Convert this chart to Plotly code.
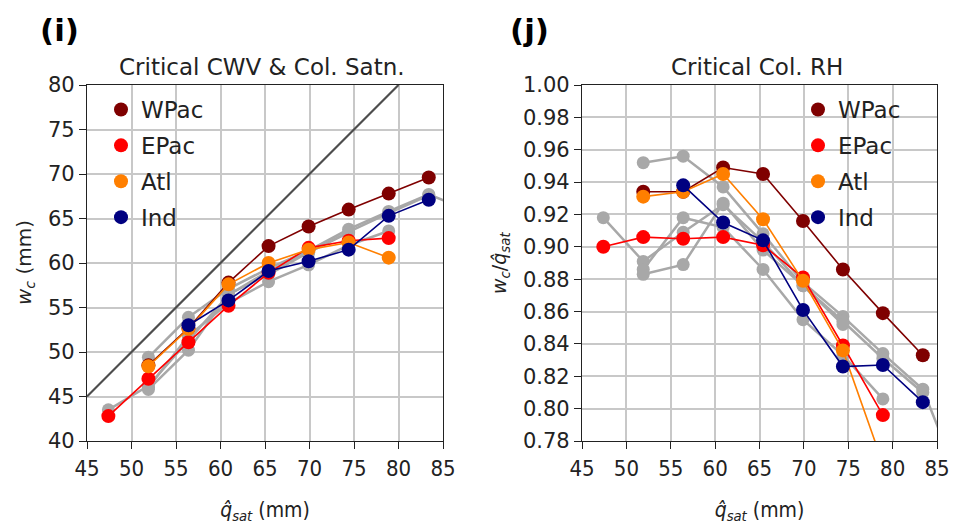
import plotly.graph_objects as go

# ---------------- data ----------------
q_sat = [47.4, 51.9, 56.4, 60.9, 65.4, 69.9, 74.4, 78.9, 83.4, 87.9]

# left panel: critical CWV (mm)
wc_wpac = [None, 48.5, 52.7, 57.8, 61.9, 64.1, 66.0, 67.8, 69.6, None]
wc_epac = [42.8, 47.0, 51.1, 55.2, 58.9, 61.7, 62.5, 62.8, None, None]
wc_atl = [None, 48.4, 52.6, 57.6, 60.0, 61.5, 62.3, 60.6, None, None]
wc_ind = [None, None, 53.0, 55.8, 59.1, 60.2, 61.5, 65.3, 67.1, None]
wc_gray = [
    [None, 49.4, 53.9, 57.1, 59.4, 61.4, 63.8, 65.8, 67.7, 65.9],
    [43.5, 46.2, 51.3, 56.4, 59.1, 61.2, 63.5, 65.6, 67.6, None],
    [None, 46.0, 51.8, 55.5, 57.9, 59.8, 62.0, 63.6, None, None],
    [None, 45.8, 50.2, 56.5, 58.7, 61.2, 63.4, None, None, None],
]
diag = [45, 80]

# right panel: critical column RH (w_c / q_sat)
rh_wpac = [None, 0.934, 0.934, 0.949, 0.945, 0.916, 0.886, 0.859, 0.833, None]
rh_epac = [0.900, 0.906, 0.905, 0.906, 0.901, 0.881, 0.839, 0.796, None, None]
rh_atl = [None, 0.931, 0.934, 0.945, 0.917, 0.879, 0.836, 0.766, None, None]
rh_ind = [None, None, 0.938, 0.915, 0.904, 0.861, 0.826, 0.827, 0.804, None]
rh_gray = [
    [None, 0.952, 0.956, 0.937, 0.908, 0.878, 0.857, 0.834, 0.812, 0.750],
    [0.918, 0.891, 0.909, 0.926, 0.903, 0.876, 0.854, 0.831, 0.810, None],
    [None, 0.886, 0.918, 0.912, 0.886, 0.855, 0.833, 0.806, None, None],
    [None, 0.883, 0.889, 0.927, 0.898, 0.876, 0.852, None, None, None],
]

names = ["WPac", "EPac", "Atl", "Ind"]
colors = ["#7f0000", "#ff0000", "#ff7f00", "#000080"]
gray = "#a8a8a8"

left_tick_vals = [40, 45, 50, 55, 60, 65, 70, 75, 80]
right_tick_vals = [0.78, 0.80, 0.82, 0.84, 0.86, 0.88, 0.90, 0.92, 0.94, 0.96, 0.98, 1.00]
x_tick_vals = [45, 50, 55, 60, 65, 70, 75, 80, 85]

# ---------------- figure ----------------
fig = go.Figure()

MS = 14
for ys in wc_gray:
    fig.add_trace(go.Scatter(x=q_sat, y=ys, mode="lines+markers", xaxis="x", yaxis="y",
                             line=dict(color=gray, width=2.5), marker=dict(color=gray, size=13),
                             showlegend=False))
for ys in rh_gray:
    fig.add_trace(go.Scatter(x=q_sat, y=ys, mode="lines+markers", xaxis="x2", yaxis="y2",
                             line=dict(color=gray, width=2.5), marker=dict(color=gray, size=13),
                             showlegend=False))

fig.add_trace(go.Scatter(x=diag, y=diag, mode="lines", xaxis="x", yaxis="y",
                         line=dict(color="#4d4d4d", width=2.2), showlegend=False))

for nm, c, ys in zip(names, colors, [wc_wpac, wc_epac, wc_atl, wc_ind]):
    fig.add_trace(go.Scatter(x=q_sat, y=ys, mode="lines+markers", xaxis="x", yaxis="y",
                             line=dict(color=c, width=1.6), marker=dict(color=c, size=MS),
                             showlegend=False))
for nm, c, ys in zip(names, colors, [rh_wpac, rh_epac, rh_atl, rh_ind]):
    fig.add_trace(go.Scatter(x=q_sat, y=ys, mode="lines+markers", xaxis="x2", yaxis="y2",
                             line=dict(color=c, width=1.6), marker=dict(color=c, size=MS),
                             showlegend=False))

# legend entries (marker only)
for nm, c in zip(names, colors):
    fig.add_trace(go.Scatter(x=[None], y=[None], mode="markers", xaxis="x", yaxis="y",
                             marker=dict(color=c, size=MS), name=nm, legend="legend",
                             legendgroup="L" + nm))
    fig.add_trace(go.Scatter(x=[None], y=[None], mode="markers", xaxis="x2", yaxis="y2",
                             marker=dict(color=c, size=MS), name=nm, legend="legend2",
                             legendgroup="R" + nm))

narrow = "Liberation Sans Narrow, DejaVu Sans Condensed, Arial Narrow, DejaVu Sans"
tickfont = dict(family="DejaVu Sans", size=21, color="#222")
xtickfont = dict(family=narrow, size=22, color="#222")
common_x = dict(range=[45, 85], tickvals=x_tick_vals, showgrid=True, gridcolor="#c8c8c8", gridwidth=1.5,
                showline=True, linecolor="#222", linewidth=1.2, mirror=True, ticks="outside",
                ticklen=7, tickcolor="#222", tickfont=xtickfont, zeroline=False, automargin=False,
                title=dict(text="<i>q̂<sub>sat</sub></i> (mm)",
                           font=dict(family=narrow, size=21, color="#222"), standoff=22))
common_y = dict(showgrid=True, gridcolor="#c8c8c8", gridwidth=1.5, showline=True, linecolor="#222",
                linewidth=1.2, mirror=True, ticks="outside", ticklen=7, tickcolor="#222",
                tickfont=tickfont, zeroline=False, automargin=False)

fig.update_layout(
    width=954, height=529, margin=dict(l=0, r=0, t=0, b=0, autoexpand=False),
    paper_bgcolor="white", plot_bgcolor="white",
    font=dict(family="DejaVu Sans", color="#222"),
    xaxis=dict(domain=[87 / 954, 443 / 954], anchor="y", **common_x),
    yaxis=dict(domain=[1 - 441 / 529, 1 - 85 / 529], anchor="x", range=[40, 80],
               tickvals=left_tick_vals, **common_y),
    xaxis2=dict(domain=[582 / 954, 937 / 954], anchor="y2", **common_x),
    yaxis2=dict(domain=[1 - 441 / 529, 1 - 85 / 529], anchor="x2", range=[0.78, 1.00],
                tickvals=right_tick_vals, tickformat=".2f", **common_y),
    legend=dict(x=101 / 954, y=1 - 88 / 529, xanchor="left", yanchor="top", bgcolor="rgba(0,0,0,0)",
                font=dict(size=23, color="#222"), tracegroupgap=3, itemclick=False),
    legend2=dict(x=798 / 954, y=1 - 88 / 529, xanchor="left", yanchor="top", bgcolor="rgba(0,0,0,0)",
                 font=dict(size=23, color="#222"), tracegroupgap=3, itemclick=False),
    annotations=[
        dict(text="<b>(i)</b>", x=38 / 954, y=1 - 30 / 529, xref="paper", yref="paper",
             xanchor="left", yanchor="middle", showarrow=False, font=dict(size=31, color="black")),
        dict(text="<b>(j)</b>", x=508 / 954, y=1 - 30 / 529, xref="paper", yref="paper",
             xanchor="left", yanchor="middle", showarrow=False, font=dict(size=31, color="black")),
        dict(text="Critical CWV & Col. Satn.", x=262 / 954, y=1 - 67 / 529, xref="paper", yref="paper",
             xanchor="center", yanchor="middle", showarrow=False, font=dict(size=23, color="#222")),
        dict(text="Critical Col. RH", x=757 / 954, y=1 - 67 / 529, xref="paper", yref="paper",
             xanchor="center", yanchor="middle", showarrow=False, font=dict(size=23, color="#222")),
        dict(text="<i>w<sub>c</sub></i> (mm)", x=25 / 954, y=1 - 263 / 529, xref="paper", yref="paper",
             xanchor="center", yanchor="middle", textangle=-90, showarrow=False,
             font=dict(size=20, color="#222")),
        dict(text="<i>w<sub>c</sub></i>/<i>q̂<sub>sat</sub></i>", x=500 / 954, y=1 - 263 / 529,
             xref="paper", yref="paper", xanchor="center", yanchor="middle", textangle=-90,
             showarrow=False, font=dict(size=19, color="#222")),
    ],
)

fig.write_html("out.html", config={"displayModeBar": False},
               post_script="document.body.style.margin='0';")
